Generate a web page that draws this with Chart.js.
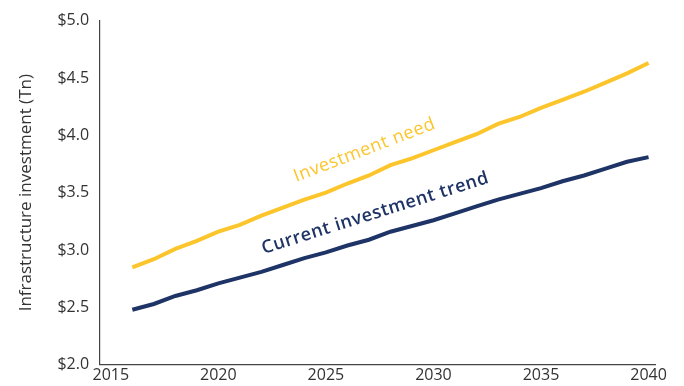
<!DOCTYPE html>
<html>
<head>
<meta charset="utf-8">
<script src="https://cdn.jsdelivr.net/npm/chart.js@4/dist/chart.umd.min.js"></script>
<style>
  html, body { margin: 0; padding: 0; background: #fff; }
  #wrap { width: 684px; height: 386px; position: relative; }
</style>
</head>
<body>
<div id="wrap"><canvas id="investChart"></canvas></div>
<script>
// data
const years = [2016, 2017, 2018, 2019, 2020, 2021, 2022, 2023, 2024, 2025, 2026, 2027, 2028,
  2029, 2030, 2031, 2032, 2033, 2034, 2035, 2036, 2037, 2038, 2039, 2040];
const investmentNeed = [2.85, 2.92, 3.01, 3.08, 3.16, 3.22, 3.30, 3.37, 3.44, 3.50, 3.58, 3.65, 3.74,
  3.80, 3.87, 3.94, 4.01, 4.10, 4.16, 4.24, 4.31, 4.38, 4.46, 4.54, 4.63];
const currentTrend = [2.48, 2.53, 2.60, 2.65, 2.71, 2.76, 2.81, 2.87, 2.93, 2.98, 3.04, 3.09, 3.16,
  3.21, 3.26, 3.32, 3.38, 3.44, 3.49, 3.54, 3.60, 3.65, 3.71, 3.77, 3.81];
const xTicks = [2015, 2020, 2025, 2030, 2035, 2040];
const yTicks = [2.0, 2.5, 3.0, 3.5, 4.0, 4.5, 5.0];

const GOLD = '#FCC52B';
const NAVY = '#1F3466';
const FONT = "'Open Sans', sans-serif";

// text labels placed along the lines (data coords)
const lineLabels = [
  { text: 'Investment need', x: 2026.8, y: 3.87, angle: -21, color: GOLD, weight: '400' },
  { text: 'Current investment trend', x: 2027.3, y: 3.32, angle: -17.5, color: NAVY, weight: '600' }
];

const toPoints = (vals) => vals.map((v, i) => ({ x: years[i], y: v }));

const lineLabelPlugin = {
  id: 'lineLabels',
  afterDatasetsDraw(chart) {
    const { ctx, scales } = chart;
    lineLabels.forEach(l => {
      const px = scales.x.getPixelForValue(l.x);
      const py = scales.y.getPixelForValue(l.y);
      ctx.save();
      ctx.translate(px, py);
      ctx.rotate(l.angle * Math.PI / 180);
      ctx.font = `${l.weight} 18px ${FONT}`;
      ctx.letterSpacing = '0.6px';
      ctx.fillStyle = l.color;
      ctx.textAlign = 'center';
      ctx.textBaseline = 'middle';
      ctx.fillText(l.text, 0, 0);
      ctx.restore();
    });
  }
};

new Chart(document.getElementById('investChart'), {
  type: 'line',
  data: {
    datasets: [
      {
        label: 'Investment need',
        data: toPoints(investmentNeed),
        borderColor: GOLD,
        borderWidth: 4,
        pointRadius: 0,
        tension: 0
      },
      {
        label: 'Current investment trend',
        data: toPoints(currentTrend),
        borderColor: NAVY,
        borderWidth: 4,
        pointRadius: 0,
        tension: 0
      }
    ]
  },
  options: {
    responsive: true,
    maintainAspectRatio: false,
    animation: false,
    layout: { padding: { top: 15, right: 29, left: 16, bottom: 0 } },
    plugins: {
      legend: { display: false },
      tooltip: { enabled: false }
    },
    scales: {
      x: {
        type: 'linear',
        min: 2014.5,
        max: 2040.3,
        afterBuildTicks: (axis) => { axis.ticks = xTicks.map(v => ({ value: v })); },
        grid: { display: false, drawTicks: false },
        border: { display: true, color: '#444', width: 1.2 },
        ticks: {
          color: '#333',
          font: { family: FONT, size: 16 },
          padding: 1,
          maxRotation: 0,
          callback: (v) => String(v)
        }
      },
      y: {
        min: 2,
        max: 5,
        afterBuildTicks: (axis) => { axis.ticks = yTicks.map(v => ({ value: v })); },
        grid: { display: false, drawTicks: false },
        border: { display: true, color: '#444', width: 1.2 },
        title: {
          display: true,
          text: 'Infrastructure investment (Tn)',
          color: '#333',
          font: { family: FONT, size: 17 },
          padding: { top: 0, bottom: 10 }
        },
        ticks: {
          color: '#333',
          font: { family: FONT, size: 16 },
          padding: 11,
          callback: (v) => '$' + Number(v).toFixed(1)
        }
      }
    }
  },
  plugins: [lineLabelPlugin]
});
</script>
</body>
</html>
